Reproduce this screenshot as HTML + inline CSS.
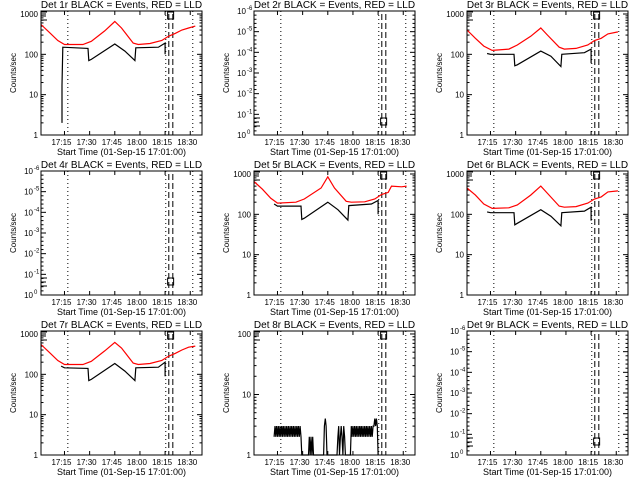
<!DOCTYPE html>
<html><head><meta charset="utf-8"><style>
html,body{margin:0;padding:0;background:#fff}
svg{display:block}
text{font-family:"Liberation Sans",sans-serif;fill:#000}
</style></head><body>
<svg id="c" width="640" height="480" xmlns="http://www.w3.org/2000/svg"></svg>
<script>
const xTickLabels=["17:15","17:30","17:45","18:00","18:15","18:30"];
const xTickMin=[14,29,44,59,74,89];
const dottedT=[16,74.4,90.5];
const dashedT=[76.2,78.6];
const detNames=["1r","2r","3r","4r","5r","6r","7r","8r","9r"];
const redT1=[0,5,10,14,25,30,38,44,48,55,58,65,72,76,80,84,88,92];
const redV1=[550,350,220,175,175,210,380,650,450,190,175,185,220,280,330,400,450,500];
const blkT1=[12.5,12.5,13,28,28.5,30,44,50,56,56.5,70,74,74];
const blkV1=[2,17,150,140,70,75,180,120,70,145,150,190,100];
const redT3=[0,5,10,15,25,30,38,44,48,55,58,65,72,76,80,84,90];
const redV3=[400,250,160,125,135,170,280,450,300,150,135,140,170,220,250,320,360];
const blkT3=[12,14,28,28.5,30,44,50,56,56.5,70,74,74];
const blkV3=[105,100,100,52,55,120,90,50,100,110,135,60];
const redT5=[0,5,10,14,25,30,40,44,48,55,58,66,72,76,80,82,88,91];
const redV5=[650,420,250,190,200,240,450,850,450,210,200,205,240,310,350,500,480,500];
const blkV5=[180,160,160,75,80,200,130,72,165,180,220,100];
const redV6=[450,300,180,140,145,170,300,500,330,160,150,155,190,240,270,360,380];
const blkV6=[115,110,110,55,60,130,90,52,110,120,150,70];
const redV7=[550,350,220,175,175,210,380,620,450,190,175,185,220,280,330,400,470,500];
const blkV7=[160,145,140,70,75,185,120,70,145,150,200,90];
const blkV8=[2,3,2,3,2,3,2,3,2,3,2,3,2,3,2,3,2,3,2,3,2,3,2,3,2,3,2,3,2,3,2,3,2,
1,1,1,1,1,1,1,1,1, 2,1,2,1,2, 1,1,1,1,1,1,1,1,1,1,1,1,1, 3,4,3,
1,1,1,1,1,1,1,1,1,1,1,1,1, 2,3,1,2,3,2,1,3,2, 1,1,1,1,1,1,1,
3,2,3,2,3,2,3,2,3,2,3,2,3,2,3,2,3,2,3,2,3,2,3,2,3,2,3, 3,4,3,4,3,1];

const NS="http://www.w3.org/2000/svg";
const svg=document.getElementById('c');
function mk(tag,attrs,parent){const e=document.createElementNS(NS,tag);for(const k in attrs)e.setAttribute(k,attrs[k]);(parent||svg).appendChild(e);return e;}
const L=41,R=202,T=11,B=135,TMAX=96;
const blkT8=blkV8.map((v,i)=>12+i*0.5);
const panels=[
 {type:"log",ymax:1186,red:[redT1,redV1],blk:[blkT1,blkV1]},
 {type:"empty"},
 {type:"log",ymax:1186,red:[redT3,redV3],blk:[blkT3,blkV3]},
 {type:"empty"},
 {type:"log",ymax:1186,red:[redT5,redV5],blk:[blkT3,blkV5]},
 {type:"log",ymax:1186,red:[redT3,redV6],blk:[blkT3,blkV6]},
 {type:"log",ymax:1186,red:[redT1,redV7],blk:[blkT3,blkV7]},
 {type:"log",ymax:112,red:null,blk:[blkT8,blkV8]},
 {type:"empty"}];
panels.forEach((p,i)=>{
 const ox=(i%3)*213, oy=Math.floor(i/3)*160;
 const g=mk('g',{transform:`translate(${ox},${oy})`});
 
 
 const xs=t=>L+(R-L)*t/TMAX;
 const ys=v=>{const lv=Math.log10(Math.max(v,1));return B-(B-T)*lv/Math.log10(p.ymax);};
 const tt=mk('text',{x:(L+R)/2,y:8,'text-anchor':'middle','font-size':'10'},g);tt.textContent=`Det ${detNames[i]} BLACK = Events, RED = LLD`;
 
 const yl=mk('text',{x:0,y:0,'text-anchor':'middle','font-size':'8',transform:`translate(16,${(T+B)/2}) rotate(-90)`},g);yl.textContent='Counts/sec';
 
 const xl=mk('text',{x:(L+R)/2,y:155,'text-anchor':'middle','font-size':'9'},g);xl.textContent='Start Time (01-Sep-15 17:01:00)';
 
 xTickMin.forEach((t,k)=>{const x=xs(t);
  mk('line',{x1:x,x2:x,y1:B,y2:B-4,stroke:'#000'},g);mk('line',{x1:x,x2:x,y1:T,y2:T+4,stroke:'#000'},g);
  const tl=mk('text',{x:x-3,y:145,'text-anchor':'middle','font-size':'8'},g);tl.textContent=xTickLabels[k];
  });
 if(p.type==="log"){
  const dec=Math.log10(p.ymax);
  for(let d=0;d<=Math.floor(dec);d++){const y=ys(Math.pow(10,d));
   mk('line',{x1:L,x2:L+5,y1:y,y2:y,stroke:'#000'},g);mk('line',{x1:R,x2:R-5,y1:y,y2:y,stroke:'#000'},g);
   const lb=mk('text',{x:L-3,y:y+3,'text-anchor':'end','font-size':'8'},g);lb.textContent=String(Math.pow(10,d));
   
   for(let m=2;m<10;m++){const v=m*Math.pow(10,d);if(v>p.ymax)break;const ym=ys(v);
    mk('line',{x1:L,x2:L+2.5,y1:ym,y2:ym,stroke:'#000'},g);mk('line',{x1:R,x2:R-2.5,y1:ym,y2:ym,stroke:'#000'},g);}
  }
 } else {
  for(let k=0;k<=6;k++){const y=B-(B-T)*k/6;
   mk('line',{x1:L,x2:L+5,y1:y,y2:y,stroke:'#000'},g);mk('line',{x1:R,x2:R-5,y1:y,y2:y,stroke:'#000'},g);
   const lb=mk('text',{x:L-8,y:y+3,'text-anchor':'end','font-size':'8'},g);lb.textContent='10';
   
   const sp=mk('text',{x:L-7,y:y-1,'font-size':'6'},g);sp.textContent=k===0?'0':'-'+k;
   if(k<6)for(let m=1;m<5;m++){const ym=y-(B-T)/6*m/5;mk('line',{x1:L,x2:L+2.5,y1:ym,y2:ym,stroke:'#000'},g);mk('line',{x1:R,x2:R-2.5,y1:ym,y2:ym,stroke:'#000'},g);}
  }
 }
 dottedT.forEach(t=>{const x=xs(t);mk('line',{x1:x,x2:x,y1:T,y2:B,stroke:'#000','stroke-dasharray':'1,3'},g);});
 dashedT.forEach(t=>{const x=xs(t);mk('line',{x1:x,x2:x,y1:T+3,y2:B,stroke:'#000','stroke-dasharray':'6,3'},g);});
 const my=p.type==="empty"?118:12;
 mk('path',{d:`M${L+6} ${my}H${L}V${my+8}H${L+6}M${L} ${my+4}H${L+5}`,stroke:'#000',fill:'none'},g);
 mk('rect',{x:xs(75.5),y:my,width:6,height:7,stroke:'#000',fill:'none'},g);
 const drawLine=(arr,color,name)=>{if(!arr)return;const pts=arr[0].map((t,k)=>xs(t).toFixed(1)+','+ys(arr[1][k]).toFixed(1)).join(' ');
  const pl=mk('polyline',{points:pts,fill:'none',stroke:color,'stroke-width':'1.2'},g);
  };
 if(p.type==="log"){drawLine(p.red,'#ff0000','lld-series');drawLine(p.blk,'#000','events-series');}
 mk('rect',{x:L,y:T,width:R-L,height:B-T,fill:'none',stroke:'#000'},g);
});
</script>
</body></html>
